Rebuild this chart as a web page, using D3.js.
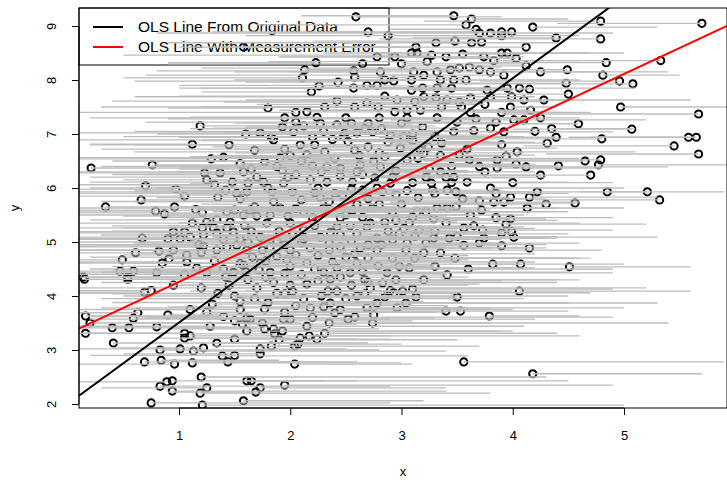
<!DOCTYPE html>
<html>
<head>
<meta charset="utf-8">
<script src="https://cdn.jsdelivr.net/npm/d3@7"></script>
<style>
  html, body { margin: 0; padding: 0; background: #fff; }
  svg { display: block; font-family: "Liberation Sans", Arial, sans-serif; }
</style>
</head>
<body>
<svg id="chart" width="727" height="482"></svg>
<script>
// Tick values on each axis
const xTicks = [1, 2, 3, 4, 5];
const yTicks = [2, 3, 4, 5, 6, 7, 8, 9];

// Fitted lines: [intercept, slope]
const olsOriginal = [2.0, 1.508];
const olsWithError = [3.30, 0.962];

const legendLabels = ["OLS Line From Original Data", "OLS Line With Measurement Error"];
const legendColors = ["#000000", "#ff0000"];

// Observations: [x, y, x measured with error]
const upperPoints = [
  [1.19,7.15,2.6],[1.12,6.81,0.2],[1.58,8.61,3.0],
  [2.59,9.17,3.9],[2.70,8.89,1.3],[2.88,8.82,4.6],[2.78,8.43,1.9],[2.94,8.43,4.1],
  [2.23,8.32,0.9],[2.13,8.19,2.8],[2.11,8.04,0.5],[2.26,7.89,3.4],[2.19,7.78,1.2],
  [2.57,8.17,0.8],[2.58,8.05,3.6],[2.81,8.15,1.5],[2.85,8.00,3.2],[2.93,7.98,0.6],
  [2.43,7.96,1.6],[2.57,7.85,4.0],[2.69,7.90,1.0],[2.78,7.90,2.2],[2.42,7.61,0.4],
  [2.31,7.50,3.0],[1.80,7.48,0.9],[2.15,7.41,2.9],[2.24,7.31,1.1],[2.58,7.50,1.8],
  [2.69,7.57,3.7],[2.79,7.50,0.3],[2.96,7.63,2.1],[2.94,7.41,4.3],[2.05,7.22,0.7],
  [1.93,7.13,2.7],[2.03,7.04,1.4],[1.73,7.02,0.0],[1.83,6.94,2.5],[2.20,6.94,1.0],
  [2.49,7.02,3.3],[2.60,7.02,1.7],[2.74,7.04,0.9],[2.90,6.98,3.8],[2.27,7.20,1.5],
  [2.42,7.17,3.1],[2.70,7.20,2.0],[2.67,7.10,1.2],
  [3.47,9.19,2.1],[3.63,9.13,4.5],[3.58,9.02,1.7],[3.67,8.94,2.9],[3.70,8.87,0.8],
  [3.80,8.87,4.9],[3.90,8.89,3.0],[3.90,8.82,1.6],[3.99,8.89,2.4],[4.18,8.98,5.3],
  [4.39,8.78,3.1],[3.13,8.61,1.0],[3.31,8.69,4.4],[3.48,8.72,2.2],[3.63,8.69,0.9],
  [3.72,8.70,3.2],[3.09,8.50,2.3],[3.14,8.50,4.7],[3.27,8.46,0.5],[3.40,8.43,2.6],
  [3.55,8.48,4.1],[3.74,8.43,1.9],[3.90,8.50,2.8],[3.95,8.50,5.0],[4.03,8.40,3.4],
  [4.12,8.61,1.4],[3.83,8.36,4.6],[3.23,8.34,1.8],[4.12,8.26,3.0],[4.25,8.15,5.4],
  [4.49,8.19,3.6],[3.11,8.15,2.0],[3.20,8.09,0.7],[3.32,8.15,4.2],[3.44,8.19,2.5],
  [3.52,8.22,1.2],[3.61,8.24,3.9],[3.70,8.19,2.7],[3.80,8.15,4.8],[3.09,8.00,1.5],
  [3.35,8.00,2.8],[3.47,8.00,4.6],[3.58,8.00,1.9],[3.92,8.09,2.9],[3.09,7.81,4.0],
  [3.19,7.85,1.0],[3.32,7.85,2.4],[3.77,7.81,3.3],[3.95,7.85,1.8],[4.06,7.85,5.1],
  [4.15,7.83,2.6],[4.48,7.94,3.5],[3.20,7.69,0.6],[3.31,7.67,2.9],[3.41,7.63,4.5],
  [3.52,7.59,1.4],[3.62,7.67,2.4],[3.80,7.69,4.2],[3.99,7.69,2.8],[4.10,7.63,1.6],
  [4.28,7.63,5.6],[4.50,7.74,3.2],[3.05,7.44,1.9],[3.17,7.44,3.9],[3.36,7.50,1.2],
  [3.54,7.50,2.6],[3.98,7.50,4.4],[4.16,7.44,2.3],[3.32,7.30,4.6],[3.50,7.22,2.1],
  [3.67,7.28,0.9],[3.85,7.22,3.0],[4.01,7.26,5.2],[4.10,7.26,2.9],[3.19,7.13,1.6],
  [3.47,7.04,4.2],[3.65,7.06,2.5],[3.80,7.11,1.3],[3.92,7.04,4.9],[4.39,6.94,2.8]
];

const rightPoints = [
  [4.79,9.09,3.2],[5.70,9.05,4.4],[4.79,8.76,2.8],[4.84,8.32,3.6],[5.33,8.36,3.9],
  [4.81,8.09,5.5],[4.96,7.98,3.7],[5.08,7.93,3.3],[4.97,7.50,6.0],[5.67,7.37,3.9],
  [4.59,7.19,3.5],[5.07,7.09,4.0],[4.80,6.91,3.4],[5.58,6.94,4.5],[5.65,6.94,4.7],
  [5.45,6.78,4.1],[5.67,6.63,4.3],[4.65,6.50,3.2],[4.79,6.52,3.9],[4.77,6.43,6.2],
  [4.70,6.24,3.1],[4.85,5.93,5.9],[5.21,5.93,4.6],[5.32,5.78,4.2],[4.56,5.72,2.9],
  [4.51,4.54,5.6],
  [3.90,6.80,2.3],[4.31,6.83,2.9],[4.04,6.67,5.1],[3.94,6.59,2.6],[3.86,6.52,1.9],
  [4.03,6.44,3.0],[4.12,6.39,5.4],[4.41,6.41,3.3],[3.86,6.37,4.8],[4.25,6.24,2.7],
  [3.61,6.52,2.2],[3.52,6.61,4.2],[3.59,6.72,1.5],[3.36,6.83,3.9],[3.24,6.76,1.7],
  [3.17,6.70,4.0],[3.47,6.20,2.0],[3.59,6.11,4.5],[3.27,6.09,1.1],[3.41,5.96,3.0],
  [3.49,5.93,4.8],[3.28,5.96,2.2],[4.22,5.93,3.1],[4.15,5.83,5.3],[3.70,5.76,2.4],
  [3.83,5.74,4.6],[3.92,5.74,2.9],[3.98,5.83,1.8],[4.30,5.70,3.6],[4.13,5.63,5.0],
  [3.72,5.59,1.6],[3.32,5.63,4.4],[3.41,5.63,2.3],[3.49,5.65,3.1],[3.14,5.56,1.3],
  [3.22,5.56,4.1],[3.10,5.46,2.5],[3.29,5.43,4.3],[3.98,5.43,2.8],[3.94,5.33,5.2],
  [3.07,5.35,1.0],[3.16,5.22,3.5],[3.56,5.26,2.4],[3.73,5.22,4.9],[3.90,5.17,3.0],
  [3.99,5.19,1.9],[4.01,5.09,5.3],[3.29,5.07,2.0],[3.43,5.07,4.3],[3.74,5.07,2.7],
  [3.22,4.98,3.9],[3.56,4.94,1.7],[3.70,4.98,4.6],[3.90,4.93,2.5],[4.15,4.89,3.3],
  [3.04,4.85,4.8],[3.35,4.80,2.2],[3.82,4.59,5.0],[4.07,4.59,2.9],[3.07,4.52,4.2],
  [3.41,4.39,2.0],
  [3.10,4.13,4.9],[3.13,3.98,1.9],[3.04,3.87,5.3],[3.50,3.98,2.5],[4.06,4.09,5.6],
  [3.40,3.72,4.5],[3.53,3.72,2.0],[3.79,3.63,4.6],[3.56,2.78,5.9],[4.18,2.56,5.7]
];

const lowerPoints = [
  [2.25,4.28,3.9],[2.36,4.31,1.4],[2.67,4.30,4.4],[2.83,4.24,1.8],[2.72,4.15,5.2],
  [2.67,4.04,2.0],[2.34,4.09,4.0],[2.42,4.09,1.1],[2.02,4.09,3.1],[1.95,4.04,0.4],
  [2.93,4.06,4.7],[3.01,4.09,2.2],[2.36,3.87,4.5],[2.78,3.87,1.6],[2.69,3.78,5.0],
  [2.96,3.78,3.8],[2.18,3.78,0.3],[1.77,3.76,3.6],[2.40,3.69,1.2],[2.58,3.61,4.9],
  [2.52,3.57,2.9],[1.61,3.59,3.3],[1.64,3.57,0.2],[1.94,3.57,4.2],[2.00,3.57,1.0],
  [2.35,3.50,3.8],[2.74,3.50,5.4],[1.57,3.48,2.6],[1.75,3.50,0.6],[2.15,3.44,4.1],
  [1.61,3.35,4.0],[1.77,3.39,0.9],[1.85,3.39,2.8],[1.93,3.35,3.9],[1.86,3.30,1.1],
  [1.90,3.19,3.5],[2.09,3.22,0.8],[2.17,3.26,4.6],[2.24,3.20,2.6],[2.31,3.31,4.4],
  [2.07,3.11,3.0],[2.04,3.07,1.3],[1.83,3.07,3.7],[1.73,3.02,2.5],[1.73,2.93,0.5],
  [2.04,2.74,3.1],[1.61,2.43,4.5],[1.65,2.43,2.6],[1.73,2.30,3.4],[1.69,2.22,0.9],
  [1.95,2.35,4.9],[1.58,2.06,3.2],
  [0.15,4.31,1.6],[0.54,4.31,2.4],[0.69,4.07,-0.6],[0.16,3.63,1.3],[0.20,3.50,2.1],
  [0.59,3.59,2.5],[0.63,3.69,-0.4],[0.40,3.41,1.7],[0.55,3.41,-0.8],[0.80,3.43,2.3],
  [0.16,3.31,0.9],[0.41,3.13,2.2],[1.05,3.31,-0.5],[1.10,3.26,2.9],[1.28,3.44,0.1],
  [1.50,3.54,3.1],[0.83,3.00,2.8],[1.01,3.02,0.0],[1.05,3.22,2.0],[1.13,2.98,3.4],
  [1.22,3.04,0.4],[1.34,3.13,2.7],[1.39,2.89,3.6],[1.50,2.90,0.2],[0.69,2.78,2.6],
  [0.84,2.81,1.9],[0.96,2.74,-0.3],[1.12,2.76,3.0],[1.44,2.78,2.3],[1.20,2.50,4.3],
  [1.25,2.30,0.3],[1.19,2.20,3.8],[0.83,2.33,2.9],[0.89,2.41,-0.2],[0.94,2.43,2.3],
  [0.94,2.24,3.4],[0.75,2.02,2.9],[1.21,1.98,5.0],[1.50,3.20,2.9]
];

const leftPoints = [
  [0.21,6.37,1.4],[0.76,6.43,2.8],[1.29,6.54,-0.4],[1.40,6.57,2.9],[1.23,6.28,3.4],
  [1.37,6.28,0.1],[1.25,6.15,2.6],[1.32,6.06,-0.2],[1.48,6.11,3.7],[0.70,6.04,2.2],
  [0.97,5.98,-0.1],[0.66,5.78,2.4],[0.34,5.65,1.9],[0.79,5.57,-0.5],[0.87,5.52,2.5],
  [0.96,5.65,3.0],[1.21,5.54,0.0],[1.35,5.83,3.2],[1.42,5.96,0.6],[1.43,5.56,3.1],
  [1.50,5.59,-0.3],[1.25,5.37,2.4],[1.34,5.41,0.2],[1.46,5.37,3.5],[1.21,5.26,-0.2],
  [1.31,5.26,2.9],[1.43,5.26,0.5],[0.95,5.19,2.6],[1.05,5.19,-0.6],[0.67,5.07,2.0],
  [0.90,5.06,-0.4],[1.01,5.06,2.8],[1.10,5.09,0.1],[1.22,5.13,3.3],[1.34,5.17,-0.1],
  [1.49,5.19,2.7],[1.22,4.93,0.0],[1.34,4.85,3.1],[1.43,4.91,-0.3],[1.52,4.94,2.3],
  [0.82,4.83,2.5],[0.95,4.85,-0.7],[0.61,4.80,1.9],[1.07,4.76,3.0],[0.49,4.67,-0.5],
  [0.91,4.69,2.2],[1.07,4.63,-0.2],[0.85,4.61,3.0],[0.47,4.46,2.1],[0.59,4.46,-0.3],
  [0.80,4.43,2.6],[0.54,4.35,1.5],[0.14,4.35,2.0],[1.16,4.52,3.2],[1.25,4.43,0.0],
  [1.42,4.35,3.6],[1.49,4.44,0.3]
];

const centerPoints = [
  [1.85,6.89,0.0],[2.09,6.80,3.4],[2.31,6.67,0.6],[1.77,6.48,3.1],[1.91,6.56,-0.1],
  [1.93,6.33,3.5],[1.58,6.30,-0.4],[2.20,6.41,0.8],[2.33,6.39,3.9],[2.45,6.37,1.2],
  [2.63,6.43,4.2],[2.81,6.39,1.0],[2.99,6.74,4.4],[2.70,6.76,1.3],[2.58,6.70,3.6],
  [1.62,6.09,2.8],[1.76,6.11,0.2],[1.94,6.09,3.3],[2.18,6.15,0.5],[2.33,6.11,3.7],
  [2.56,6.11,1.4],[2.76,6.19,4.0],[2.90,6.09,1.5],[1.61,5.93,-0.3],[1.84,5.93,3.0],
  [2.02,5.93,0.6],[2.22,5.91,3.4],[2.47,5.87,1.0],[2.65,5.96,3.9],[2.83,5.93,1.6],
  [1.64,5.59,3.2],[1.91,5.63,0.1],[2.12,5.56,3.6],[2.30,5.63,1.1],[2.56,5.59,3.8],
  [2.74,5.63,1.4],[2.92,5.56,4.5],[2.85,5.37,1.3],[2.69,5.28,4.1],[2.54,5.30,0.9],
  [2.42,5.28,3.9],[2.22,5.30,0.4],[2.00,5.35,3.3],[1.79,5.35,-0.2],[1.59,5.31,2.9],
  [1.73,5.09,3.7],[2.02,5.13,0.3],[2.27,5.09,3.5],[2.45,5.13,1.0],[2.78,5.07,4.4],
  [2.92,5.04,1.6],[2.63,4.89,4.3],[2.45,4.91,0.8],[2.18,4.89,3.8],[2.00,4.85,0.2],
  [1.82,4.91,3.4],[1.61,4.85,-0.1],[2.78,4.85,1.2],[2.92,4.70,4.6],[2.79,4.56,1.5],
  [2.87,4.43,4.9],[2.60,4.61,1.0],[2.38,4.63,4.2],[2.15,4.61,0.5],[1.97,4.67,3.6],
  [1.73,4.61,0.0],[1.58,4.57,3.3],[1.82,4.44,0.7],[2.30,4.44,4.5],[2.54,4.43,1.2],
  [1.68,6.70,3.5],[1.95,6.72,0.3],[2.15,6.62,3.2],[2.40,6.55,0.9],[2.52,6.86,3.8],
  [2.85,6.58,1.1],[3.05,6.52,4.0],[3.10,6.88,1.2],[2.95,6.32,3.6],[2.65,6.25,0.7],
  [2.45,6.22,3.3],[2.05,6.25,0.4],[1.70,6.20,2.9],[2.25,6.00,0.8],[2.55,5.98,3.5],
  [2.95,5.88,1.8],[3.10,6.10,4.3],[3.15,5.82,1.5],[2.70,5.80,4.1],[2.35,5.75,0.6],
  [2.10,5.78,3.1],[1.85,5.75,0.3],[1.55,5.80,3.0],[1.70,5.48,0.5],[1.98,5.48,3.4],
  [2.20,5.45,0.9],[2.45,5.45,3.7],[2.65,5.46,1.0],[2.80,5.70,3.9],[3.00,5.70,1.2],
  [3.02,5.25,4.2],[2.88,5.20,1.5],[2.60,5.15,4.0],[2.36,5.18,0.7],[2.12,5.22,3.3],
  [1.90,5.20,0.4],[1.65,5.20,3.1],[1.55,5.05,0.0],[1.88,5.02,3.5],[2.10,4.98,0.6],
  [2.35,4.98,3.8],[2.55,5.02,1.1],[2.70,4.95,4.3],[3.05,4.98,1.4],[3.12,4.70,4.5],
  [2.98,4.55,1.8],[2.70,4.70,4.1],[2.50,4.72,0.9],[2.25,4.75,3.6],[2.05,4.76,0.5],
  [1.88,4.73,3.2],[1.66,4.72,0.2],[1.55,4.60,2.9],[1.72,4.48,0.4],[1.95,4.42,3.4],
  [2.10,4.40,0.7],[2.42,4.52,4.0],[2.65,4.45,1.3],[2.95,4.30,4.6],[2.55,4.20,1.0],
  [2.15,4.22,3.7],[1.85,4.25,0.3],[1.62,4.30,3.0],[1.70,4.15,0.1],[1.88,4.05,3.5],
  [2.12,3.95,0.6],[2.50,3.95,4.1],[2.85,3.98,1.5],[1.55,3.90,3.2],[1.80,3.88,0.4],
  [2.05,3.82,3.4],[2.30,3.80,0.9],[1.45,4.20,2.8],[1.35,4.05,0.1],[1.20,4.15,2.7],
  [1.05,4.40,-0.3],[0.95,4.20,2.4],[0.75,4.10,-0.5],[1.30,3.85,3.1],[1.10,3.75,-0.1],
  [0.90,3.65,2.6],[1.40,3.62,0.2],[1.25,3.70,3.3],[1.55,3.75,0.5],[1.20,4.80,-0.2],
  [1.15,5.60,2.9],[1.05,5.85,-0.4],[1.55,6.45,3.6],[1.45,6.80,0.2],[1.60,7.00,3.3],
  [2.05,7.40,0.1],[2.50,7.30,3.9],[2.80,7.30,0.9],[3.00,7.20,3.9],[3.10,7.00,0.8],
  [3.30,6.95,4.1],[3.35,6.60,1.3],[3.45,6.40,4.4],[3.25,6.35,1.0],[3.40,6.20,0.2]
];

const densePoints = [
  [2.48,6.95,0.5],[2.62,6.60,3.9],[2.75,6.50,0.8],[2.88,6.85,4.2],[3.02,6.95,1.6],
  [3.15,6.55,4.6],[3.22,6.20,1.9],[3.30,5.90,4.5],[3.05,5.95,0.9],[2.92,6.20,4.3],
  [2.78,6.00,1.2],[2.60,5.70,4.0],[2.40,5.90,0.7],[2.28,6.30,3.8],[2.10,6.50,0.4],
  [1.98,6.20,3.1],[1.80,6.00,0.2],[1.68,5.65,2.9],[1.82,5.50,0.1],[2.05,5.62,3.5],
  [2.27,5.82,0.8],[2.50,5.50,4.1],[2.72,5.35,1.0],[2.95,5.40,4.4],[3.12,5.10,1.3],
  [2.98,5.15,4.5],[2.82,4.95,0.9],[2.58,4.78,4.2],[2.35,4.85,0.6],[2.12,5.05,3.9],
  [1.95,4.95,0.3],[1.75,4.85,3.2],[1.62,5.00,0.0],[1.78,4.65,3.5],[2.00,4.55,0.4],
  [2.22,4.50,3.8],[2.45,4.35,1.0],[2.70,4.25,4.4],[2.90,4.10,1.6],[2.60,4.00,4.5],
  [2.28,4.00,0.5],[2.00,4.20,3.6],[1.78,4.35,0.1],[1.60,4.45,3.0],[1.68,3.95,0.3],
  [1.95,3.70,3.4],[2.20,3.60,0.7],[2.45,3.75,4.0],[2.75,3.65,1.2],[1.50,4.00,3.1],
  [1.40,4.50,0.2],[1.32,4.65,2.9],[1.18,4.95,-0.2],[1.12,5.35,2.7],[1.40,5.05,0.3],
  [1.58,5.50,3.4],[1.52,5.90,0.0],[1.65,6.35,3.2],[1.88,6.40,0.3],[2.00,6.60,3.5],
  [2.22,6.80,0.6],[2.38,6.90,3.7],[2.60,6.30,1.0],[2.80,6.65,4.1],[3.20,6.65,1.5],
  [3.35,6.30,4.2],[3.45,6.10,1.7],[3.55,5.80,4.3],[3.62,5.50,1.9],[3.40,5.35,4.6],
  [3.30,5.20,1.6],[3.50,5.10,4.4],[3.20,4.80,1.4],[3.48,4.70,4.7],[3.30,4.55,1.5],
  [3.60,4.50,4.9],[3.20,4.30,1.2],[3.75,6.30,2.0],[3.80,6.00,5.0],[3.70,6.40,1.8],
  [3.85,5.90,2.2],[4.00,6.10,4.9],[3.65,5.30,2.1],[3.85,5.45,4.9],[2.30,7.05,0.6],
  [2.55,7.20,3.9],[2.82,7.10,1.1],[3.05,7.30,4.2],[2.12,7.15,3.3],[1.95,7.30,0.2],
  [2.65,8.30,0.9],[3.00,8.30,4.1],[2.85,7.70,1.0],[3.12,7.60,4.3],[3.45,7.85,1.2],
  [3.62,7.40,4.4],[3.75,7.55,1.7],[3.90,7.40,4.7],[4.25,7.30,2.2],[4.35,7.10,5.1],
  [4.20,7.05,2.0]
];

const points = [].concat(upperPoints, rightPoints, lowerPoints, leftPoints, centerPoints, densePoints);

// Layout of the plotting region
const plot = { left: 79, top: 8, right: 727, bottom: 408 };

const x = d3.scaleLinear().domain([1, 5]).range([179, 624]);
const y = d3.scaleLinear().domain([2, 9]).range([404, 26]);

const svg = d3.select("#chart");

svg.append("defs").append("clipPath").attr("id", "plot-clip")
  .append("rect")
  .attr("x", plot.left).attr("y", plot.top)
  .attr("width", plot.right - plot.left).attr("height", plot.bottom - plot.top);

// Legend (drawn first; the data are drawn over it)
const legend = svg.append("g");
legend.append("rect")
  .attr("x", plot.left).attr("y", plot.top)
  .attr("width", 310).attr("height", 57)
  .attr("fill", "#fff").attr("stroke", "#000").attr("stroke-width", 1);
legendLabels.forEach((label, i) => {
  const ly = 27 + i * 20;
  legend.append("line")
    .attr("x1", 93).attr("x2", 123).attr("y1", ly).attr("y2", ly)
    .attr("stroke", legendColors[i]).attr("stroke-width", 2);
  legend.append("text")
    .attr("x", 138).attr("y", ly).attr("dy", "0.35em")
    .attr("font-size", 15.5).attr("fill", "#000")
    .text(label);
});

const body = svg.append("g").attr("clip-path", "url(#plot-clip)");

// Observations
body.append("g").selectAll("circle")
  .data(points)
  .join("circle")
  .attr("cx", d => x(d[0]))
  .attr("cy", d => y(d[1]))
  .attr("r", 3.6)
  .attr("fill", "none")
  .attr("stroke", "#000")
  .attr("stroke-width", 2);

// Horizontal displacement from the measured x
body.append("g").selectAll("line")
  .data(points)
  .join("line")
  .attr("x1", d => x(d[0]))
  .attr("x2", d => x(d[2]))
  .attr("y1", d => y(d[1]))
  .attr("y2", d => y(d[1]))
  .attr("stroke", "#bebebe")
  .attr("stroke-width", 1.3);

// Regression lines across the whole region
const xs = x.invert(plot.left), xe = x.invert(plot.right);
[[olsOriginal, "#000"], [olsWithError, "#ff0000"]].forEach(([coef, col]) => {
  body.append("line")
    .attr("x1", x(xs)).attr("y1", y(coef[0] + coef[1] * xs))
    .attr("x2", x(xe)).attr("y2", y(coef[0] + coef[1] * xe))
    .attr("stroke", col).attr("stroke-width", 2);
});

// Box around the plotting region
svg.append("rect")
  .attr("x", plot.left).attr("y", plot.top)
  .attr("width", plot.right - plot.left).attr("height", plot.bottom - plot.top)
  .attr("fill", "none").attr("stroke", "#000").attr("stroke-width", 1);

// Axes in base-graphics style
const xAxis = svg.append("g").attr("transform", `translate(0,${plot.bottom})`)
  .call(d3.axisBottom(x).tickValues(xTicks).tickSize(7).tickPadding(16).tickFormat(d3.format("d")));
xAxis.select(".domain").attr("d", `M${x(1)},0H${x(5)}`);
xAxis.selectAll("text").attr("font-size", 13).attr("font-family", "Liberation Sans, Arial, sans-serif").attr("fill", "#000");

const yAxis = svg.append("g").attr("transform", `translate(${plot.left},0)`)
  .call(d3.axisLeft(y).tickValues(yTicks).tickSize(7).tickFormat(d3.format("d")));
yAxis.select(".domain").attr("d", `M0,${y(2)}V${y(9)}`);
yAxis.selectAll("text")
  .attr("font-size", 13).attr("font-family", "Liberation Sans, Arial, sans-serif").attr("fill", "#000")
  .attr("text-anchor", "middle")
  .attr("x", 0).attr("y", 0).attr("dy", "0.35em")
  .attr("transform", "translate(-28,0) rotate(-90)");

// Axis titles
svg.append("text").attr("x", (plot.left + plot.right) / 2).attr("y", 476)
  .attr("text-anchor", "middle").attr("font-size", 13).text("x");
svg.append("text").attr("transform", `translate(14,${(plot.top + plot.bottom) / 2}) rotate(-90)`)
  .attr("text-anchor", "middle").attr("dy", "0.35em").attr("font-size", 13).text("y");
</script>
</body>
</html>
